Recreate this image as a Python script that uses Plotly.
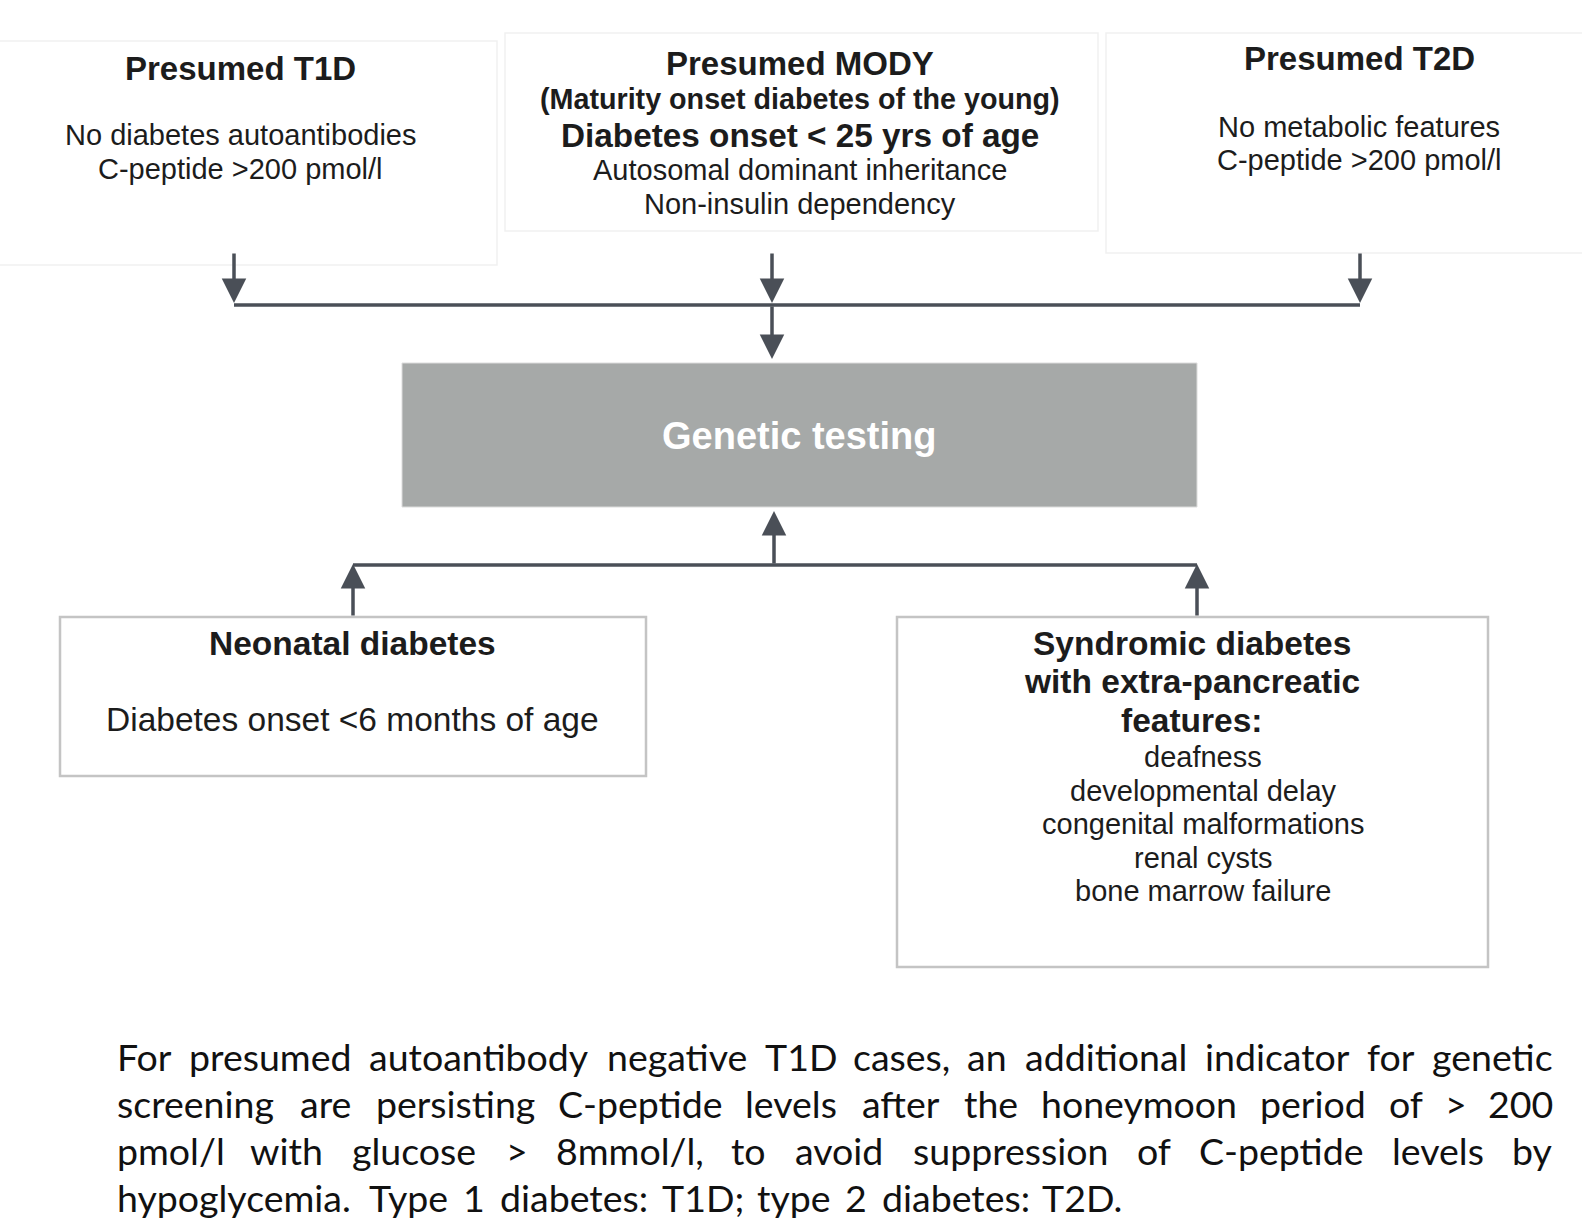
import plotly.graph_objects as go

W, H = 1582, 1229

# ---------------- content ----------------
top_titles = ["Presumed T1D", "Presumed MODY", "Presumed T2D"]
t1d_lines = ["No diabetes autoantibodies", "C-peptide >200 pmol/l"]
mody_sub = "(Maturity onset diabetes of the young)"
mody_onset = "Diabetes onset < 25 yrs of age"
mody_lines = ["Autosomal dominant inheritance", "Non-insulin dependency"]
t2d_lines = ["No metabolic features", "C-peptide >200 pmol/l"]
center_label = "Genetic testing"
neo_title = "Neonatal diabetes"
neo_line = "Diabetes onset <6 months of age"
syn_title = ["Syndromic diabetes", "with extra-pancreatic", "features:"]
syn_items = ["deafness", "developmental delay", "congenital malformations",
             "renal cysts", "bone marrow failure"]
footer_lines = [
    "For presumed autoantibody negative T1D cases, an additional indicator for genetic",
    "screening are persisting C-peptide levels after the honeymoon period of > 200",
    "pmol/l with glucose > 8mmol/l, to avoid suppression of C-peptide levels by",
    "hypoglycemia. Type 1 diabetes: T1D; type 2 diabetes: T2D.",
]

# ---------------- styles ----------------
TXT = "#1c1c1c"
ARW = "#4a4f57"
SANS = "Liberation Sans, Arial, Helvetica, sans-serif"
FOOT = "Lato, Open Sans, sans-serif"

fig = go.Figure()
fig.update_xaxes(range=[0, W], visible=False, fixedrange=True)
fig.update_yaxes(range=[H, 0], visible=False, fixedrange=True)

shapes = []
anns = []


def rect(x0, y0, x1, y1, line="#c4c4c4", lw=2.5, fill="rgba(0,0,0,0)"):
    shapes.append(dict(type="rect", x0=x0, y0=y0, x1=x1, y1=y1, xref="x", yref="y",
                       line=dict(color=line, width=lw), fillcolor=fill, layer="below"))


def line(x0, y0, x1, y1, color=ARW, lw=3.5):
    shapes.append(dict(type="line", x0=x0, y0=y0, x1=x1, y1=y1, xref="x", yref="y",
                       line=dict(color=color, width=lw)))


def arrow(x0, y0, x1, y1):
    anns.append(dict(x=x1, y=y1, ax=x0, ay=y0, xref="x", yref="y", axref="x", ayref="y",
                     showarrow=True, arrowhead=2, arrowsize=1.4, arrowwidth=3.5,
                     arrowcolor=ARW, text=""))


def text(x, y, s, size, bold=False, color=TXT, font=SANS, xanchor="center"):
    anns.append(dict(x=x, y=y, xref="x", yref="y", text=(f"<b>{s}</b>" if bold else s),
                     showarrow=False, xanchor=xanchor, yanchor="middle", borderpad=0,
                     font=dict(family=font, size=size, color=color)))


# ---------------- top boxes ----------------
FAINT = "#f1f1f1"
rect(-5, 41, 497, 265, line=FAINT, lw=1.5)
rect(505, 33, 1098, 231, line=FAINT, lw=1.5)
rect(1106, 33, 1600, 253, line=FAINT, lw=1.5)

text(240, 68, top_titles[0], 33, bold=True)
for i, s in enumerate(t1d_lines):
    text(240, 135 + 34 * i, s, 29)

text(800, 63, top_titles[1], 33, bold=True)
text(800, 99, mody_sub, 28.7, bold=True)
text(800, 135, mody_onset, 33.3, bold=True)
for i, s in enumerate(mody_lines):
    text(800, 170 + 34 * i, s, 29)

text(1359, 58, top_titles[2], 33, bold=True)
for i, s in enumerate(t2d_lines):
    text(1359, 127 + 33 * i, s, 29)

# ---------------- connectors (top) ----------------
tx = [234, 772, 1360]
for x in tx:
    arrow(x, 252, x, 303)
line(tx[0], 305, tx[-1], 305)
arrow(tx[1], 305, tx[1], 359)

# ---------------- central box ----------------
rect(402, 363, 1197, 507, line="#dcdcdc", lw=1, fill="#a6a9a8")
text(799, 436, center_label, 38, bold=True, color="#ffffff")

# ---------------- connectors (bottom) ----------------
bx = [353, 774, 1197]
line(bx[0], 565, bx[2], 565)
arrow(bx[1], 565, bx[1], 511)
arrow(bx[0], 617, bx[0], 564)
arrow(bx[2], 617, bx[2], 564)

# ---------------- bottom boxes ----------------
rect(60, 617, 646, 776)
text(352, 643, neo_title, 33.5, bold=True)
text(352, 719, neo_line, 33.5)

rect(897, 617, 1488, 967)
for i, s in enumerate(syn_title):
    text(1192, 643 + 38.5 * i, s, 33.5, bold=True)
for i, s in enumerate(syn_items):
    text(1203, 757 + 33.5 * i, s, 29)

# ---------------- footer (justified) ----------------
CW = {}
for ch in "abcdeghnopqu":
    CW[ch] = 0.54
CW.update({"a": 0.50, "c": 0.45, "e": 0.52, "s": 0.41, "f": 0.32, "t": 0.34, "r": 0.36,
           "i": 0.24, "l": 0.24, "j": 0.24, "m": 0.82, "v": 0.49, "w": 0.74, "y": 0.49,
           "k": 0.49, "x": 0.48, "z": 0.44, "T": 0.54, "D": 0.71, "C": 0.64, "F": 0.52,
           ",": 0.22, ".": 0.22, ";": 0.23, ":": 0.23, "/": 0.36, "-": 0.34, ">": 0.55,
           " ": 0.25})
for d in "0123456789":
    CW[d] = 0.55

FS = 37.5
KW = 1.03


def wwidth(s):
    return sum(CW.get(c, 0.55) for c in s) * FS * KW


X0 = 116
XR = [1554, 1554, 1554, 1123]   # right edge of each footer line (last line is short)
FY = [1056, 1103, 1150, 1197]
for li, s in enumerate(footer_lines):
    words = s.split()
    ws = [wwidth(w) for w in words]
    X1 = XR[li]
    gap = (X1 - X0 - sum(ws)) / (len(words) - 1)
    x = X0
    for k, (w, wd) in enumerate(zip(words, ws)):
        if k == 0:
            text(X0, FY[li], w, FS, font=FOOT, xanchor="left", color="#111111")
        elif k == len(words) - 1:
            text(X1, FY[li], w, FS, font=FOOT, xanchor="right", color="#111111")
        else:
            text(x + wd / 2, FY[li], w, FS, font=FOOT, xanchor="center", color="#111111")
        x += wd + gap

fig.update_layout(width=W, height=H, margin=dict(l=0, r=0, t=0, b=0),
                  paper_bgcolor="white", plot_bgcolor="white",
                  shapes=shapes, annotations=anns, showlegend=False)

fig.write_html("out.html", config={"displayModeBar": False},
               post_script="document.body.style.margin='0';document.body.style.overflow='hidden';")
